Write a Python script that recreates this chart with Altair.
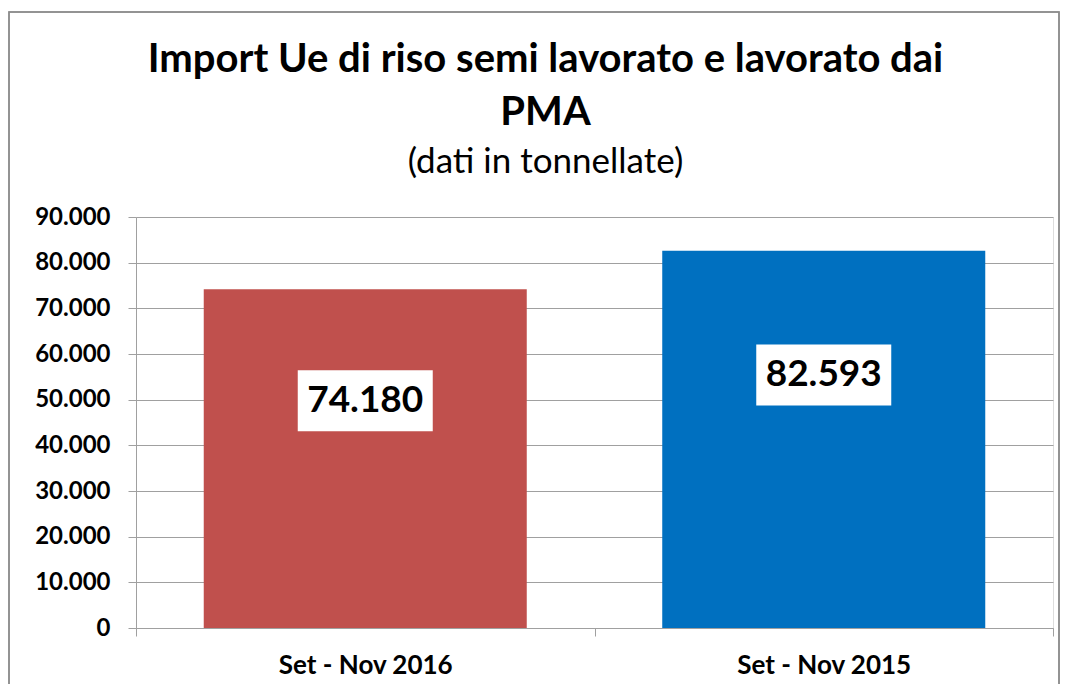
import altair as alt
import pandas as pd

categories = ["Set - Nov 2016", "Set - Nov 2015"]
values = [74180, 82593]
colors = ["#C0504D", "#0070C0"]
labels = ["74.180", "82.593"]
y_ticks = [0, 10000, 20000, 30000, 40000, 50000, 60000, 70000, 80000, 90000]

df = pd.DataFrame({"cat": categories, "val": values, "col": colors, "lab": labels})

FONT = "Lato"
GRID = "#A0A0A0"

x_enc = alt.X(
    "cat:N",
    sort=categories,
    scale=alt.Scale(paddingInner=0, paddingOuter=0),
    axis=alt.Axis(
        title=None, labelAngle=0, tickBand="extent", tickSize=8, tickColor=GRID,
        domainColor=GRID, labelFont=FONT, labelFontSize=26, labelFontWeight="bold",
        labelColor="#000000", labelPadding=16, grid=False,
    ),
)

y_enc = alt.Y(
    "val:Q",
    scale=alt.Scale(domain=[0, 90000], nice=False),
    axis=alt.Axis(
        title=None, values=y_ticks, tickSize=8, tickColor=GRID, domainColor=GRID,
        gridColor=GRID, grid=True, labelFont=FONT, labelFontSize=24,
        labelFontWeight="bold", labelColor="#000000", labelPadding=18,
        labelExpr="datum.value == 0 ? '0' : replace(format(datum.value, ',d'), ',', '.')",
    ),
)

bars = alt.Chart(df).mark_bar(width=alt.RelativeBandSize(0.7045)).encode(
    x=x_enc, y=y_enc, color=alt.Color("col:N", scale=None)
)

base_lab = alt.Chart(df).transform_calculate(ly="datum.val * 0.671")

boxes = base_lab.mark_tick(size=135, thickness=61, color="white", opacity=1).encode(
    x=alt.X("cat:N", sort=categories), y=alt.Y("ly:Q")
)

texts = base_lab.mark_text(
    font=FONT, fontSize=37, fontWeight="bold", color="#000000", baseline="middle"
).encode(x=alt.X("cat:N", sort=categories), y=alt.Y("ly:Q"), text="lab:N")

frame = alt.Chart(df).mark_rect(fill=None, stroke="#8C8C8C", strokeWidth=1.5).encode(
    x=alt.value(-127), x2=alt.value(923), y=alt.value(-205), y2=alt.value(500)
)

chart = alt.layer(frame, bars, boxes, texts).properties(
    width=917,
    height=411,
    padding={"left": 128, "top": 209, "right": 8, "bottom": 56},
    autosize=alt.AutoSizeParams(type="none"),
    title=alt.TitleParams(
        text=["Import Ue di riso semi lavorato e lavorato dai", "PMA"],
        subtitle="(dati in tonnellate)",
        font=FONT, fontSize=40, fontWeight="bold", color="#000000",
        lineHeight=53, subtitleFont=FONT, subtitleFontSize=35,
        subtitleColor="#000000", subtitlePadding=12, anchor="middle",
        frame="group", dx=-49, offset=-169,
    ),
).configure_view(stroke=None, strokeWidth=0).configure_axisX(grid=False).configure(background="white")

chart.save("out.html", embed_options={"renderer": "svg", "actions": False})
